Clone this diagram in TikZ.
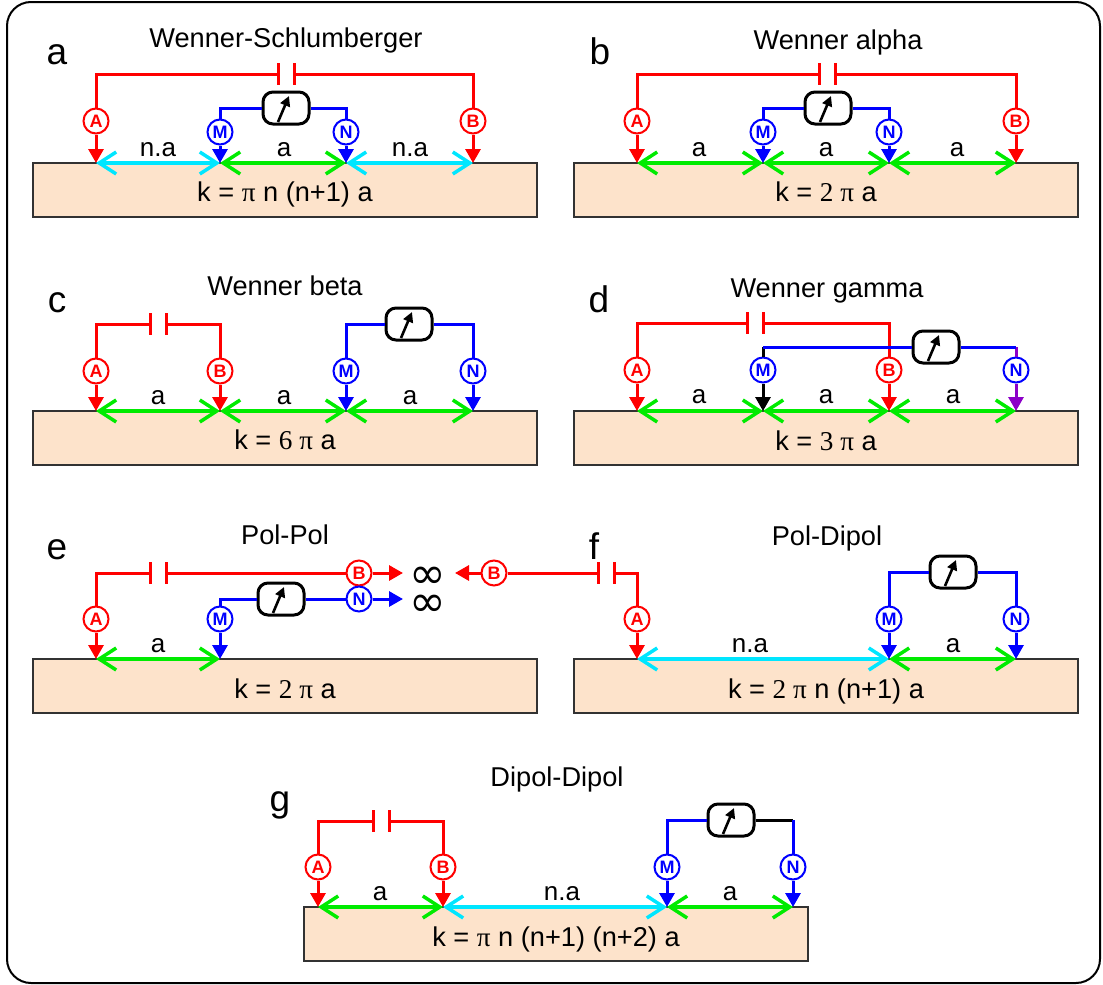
\documentclass[tikz,border=0pt]{standalone}
\usepackage{fontspec}
\setmainfont{Liberation Sans}
\newfontfamily\tms{Liberation Serif}
\newfontfamily\djv{DejaVu Sans}
\usetikzlibrary{arrows.meta}
\definecolor{soilfill}{RGB}{253,227,203}
\definecolor{soilline}{RGB}{50,50,50}
\definecolor{dimgreen}{RGB}{0,235,0}
\definecolor{dimcyan}{RGB}{0,230,255}
\definecolor{wirered}{RGB}{255,0,0}
\definecolor{wireblue}{RGB}{0,0,255}
\definecolor{wirepurple}{RGB}{140,0,200}
\tikzset{
  frame/.style={draw=black,line width=2pt,rounded corners=24pt,fill=white},
  soil/.style={draw=soilline,line width=1.6pt,fill=soilfill,minimum width=504pt,minimum height=54pt,inner sep=0pt},
  elecnode/.style={circle,draw=#1,text=#1,fill=white,line width=2pt,minimum size=25pt,inner sep=0pt,font=\fontsize{18}{18}\selectfont\bfseries},
  probe/.style={draw=#1,line width=3pt,-{Triangle[length=14pt,width=15pt,fill=#1]}},
  wire/.style={draw=#1,line width=3pt},
  dim/.style={draw=#1,line width=3.5pt,{Straight Barb[length=17pt,width=22pt,line width=3.5pt]}-{Straight Barb[length=17pt,width=22pt,line width=3.5pt]}},
  meter/.style={draw=black,fill=white,line width=3pt,rounded corners=10pt,minimum width=46pt,minimum height=32pt,inner sep=0pt},
  needle/.style={draw=black,line width=2.6pt,-{Triangle[length=10pt,width=10pt]}},
  plate/.style={draw=wirered,line width=3pt},
  panelletter/.style={anchor=base,font=\fontsize{37}{37}\selectfont},
  paneltitle/.style={anchor=base,font=\fontsize{27.2}{30}\selectfont},
  dimlabel/.style={anchor=base,inner sep=0pt,font=\fontsize{26}{28}\selectfont},
  formula/.style={anchor=base,inner sep=0pt,font=\fontsize{27.2}{30}\selectfont},
  inftylabel/.style={inner sep=0pt,align=center,font=\fontsize{44}{28}\selectfont\djv},
}
% name, x, circle y, letter, circle colour, arrow colour, ground y
\newcommand{\elec}[7]{%
  \node[elecnode=#5] (#1) at (#2,#3) {#4};
  \coordinate (#1g) at (#2,#7);
  \draw[probe=#6] (#1) -- (#1g);
}
% name, x, y
\newcommand{\battery}[3]{%
  \coordinate (#1L) at (#2-8,#3);
  \coordinate (#1R) at (#2+8,#3);
  \draw[plate] (#2-8,#3-11) -- (#2-8,#3+11);
  \draw[plate] (#2+8,#3-11) -- (#2+8,#3+11);
}
% name, x, y
\newcommand{\gauge}[3]{%
  \node[meter] (#1) at (#2,#3) {};
  \draw[needle] ([shift={(-8,14)}]#1.center) -- ([shift={(3,-12)}]#1.center);
}
\begin{document}
\begin{tikzpicture}[x=1pt,y=-1pt]
\useasboundingbox (0,0) rectangle (1103,985);
\draw[frame] (7,2) rectangle (1100,983);

% ---- a
\node[soil] (boxa) at (285,190) {};
\node[formula] (ka) at (285,201) {k = {\tms π} n (n+1) a};
\node[panelletter] (la) at (57,64) {a};
\node[paneltitle] (ta) at (286,47) {Wenner-Schlumberger};
\elec{aA}{96}{121}{A}{wirered}{wirered}{163}
\elec{aM}{220}{132}{M}{wireblue}{wireblue}{163}
\elec{aN}{346}{132}{N}{wireblue}{wireblue}{163}
\elec{aB}{473}{121}{B}{wirered}{wirered}{163}
\battery{acap}{286}{74}
\draw[wire=wirered] (aA) |- (acapL);
\draw[wire=wirered] (aB) |- (acapR);
\gauge{am}{286}{108}
\draw[wire=wireblue] (aM) |- (am.west);
\draw[wire=wireblue] (aN) |- (am.east);
\draw[dim=dimcyan] (aAg) -- (aMg);
\draw[dim=dimgreen] (aMg) -- (aNg);
\draw[dim=dimcyan] (aNg) -- (aBg);
\node[dimlabel] (da1) at (158,156) {n.a};
\node[dimlabel] (da2) at (284,156) {a};
\node[dimlabel] (da3) at (410,156) {n.a};

% ---- b
\node[soil] (boxb) at (826,190) {};
\node[formula] (kb) at (826,201) {k = {\tms 2 π} a};
\node[panelletter] (lb) at (600,64) {b};
\node[paneltitle] (tb) at (838,49) {Wenner alpha};
\elec{bA}{637}{121}{A}{wirered}{wirered}{163}
\elec{bM}{763}{132}{M}{wireblue}{wireblue}{163}
\elec{bN}{889}{132}{N}{wireblue}{wireblue}{163}
\elec{bB}{1016}{121}{B}{wirered}{wirered}{163}
\battery{bcap}{827}{74}
\draw[wire=wirered] (bA) |- (bcapL);
\draw[wire=wirered] (bB) |- (bcapR);
\gauge{bm}{828}{108}
\draw[wire=wireblue] (bM) |- (bm.west);
\draw[wire=wireblue] (bN) |- (bm.east);
\draw[dim=dimgreen] (bAg) -- (bMg);
\draw[dim=dimgreen] (bMg) -- (bNg);
\draw[dim=dimgreen] (bNg) -- (bBg);
\node[dimlabel] (db1) at (699,156) {a};
\node[dimlabel] (db2) at (826,156) {a};
\node[dimlabel] (db3) at (957,156) {a};

% ---- c
\node[soil] (boxc) at (285,438) {};
\node[formula] (kc) at (285,449) {k = {\tms 6 π} a};
\node[panelletter] (lc) at (57,312) {c};
\node[paneltitle] (tc) at (285,295) {Wenner beta};
\elec{cA}{96}{371}{A}{wirered}{wirered}{411}
\elec{cB}{220}{371}{B}{wirered}{wirered}{411}
\elec{cM}{346}{371}{M}{wireblue}{wireblue}{411}
\elec{cN}{473}{371}{N}{wireblue}{wireblue}{411}
\battery{ccap}{158}{324}
\draw[wire=wirered] (cA) |- (ccapL);
\draw[wire=wirered] (cB) |- (ccapR);
\gauge{cm}{409}{324}
\draw[wire=wireblue] (cM) |- (cm.west);
\draw[wire=wireblue] (cN) |- (cm.east);
\draw[dim=dimgreen] (cAg) -- (cBg);
\draw[dim=dimgreen] (cBg) -- (cMg);
\draw[dim=dimgreen] (cMg) -- (cNg);
\node[dimlabel] (dc1) at (158,404) {a};
\node[dimlabel] (dc2) at (284,404) {a};
\node[dimlabel] (dc3) at (410,404) {a};

% ---- d
\node[soil] (boxd) at (826,438) {};
\node[formula] (kd) at (826,450) {k = {\tms 3 π} a};
\node[panelletter] (ld) at (599,312) {d};
\node[paneltitle] (td) at (827,297) {Wenner gamma};
\elec{dA}{637}{370}{A}{wirered}{wirered}{411}
\elec{dM}{763}{370}{M}{wireblue}{black}{411}
\elec{dB}{889}{370}{B}{wirered}{wirered}{411}
\elec{dN}{1016}{370}{N}{wireblue}{wirepurple}{411}
\battery{dcap}{755}{323}
\draw[wire=wirered] (dA) |- (dcapL);
\draw[wire=wirered] (dB) |- (dcapR);
\gauge{dm}{936}{347}
\coordinate (dMc) at (763,347);
\coordinate (dNc) at (1016,347);
\draw[wire=black] (dM) -- (dMc);
\draw[wire=wirepurple] (dN) -- (dNc);
\draw[wire=wireblue] (dMc) -- (dm.west);
\draw[wire=wireblue] (dm.east) -- (dNc);
\draw[dim=dimgreen] (dAg) -- (dMg);
\draw[dim=dimgreen] (dMg) -- (dBg);
\draw[dim=dimgreen] (dBg) -- (dNg);
\node[dimlabel] (dd1) at (699,403) {a};
\node[dimlabel] (dd2) at (826,403) {a};
\node[dimlabel] (dd3) at (953,403) {a};

% ---- e
\node[soil] (boxe) at (285,686) {};
\node[formula] (ke) at (285,698) {k = {\tms 2 π} a};
\node[panelletter] (le) at (57,559) {e};
\node[paneltitle] (te) at (285,544) {Pol-Pol};
\elec{eA}{96}{619}{A}{wirered}{wirered}{659}
\elec{eM}{220}{619}{M}{wireblue}{wireblue}{659}
\battery{ecap}{158}{573}
\node[elecnode=wirered] (eB) at (359,573) {B};
\node[elecnode=wireblue] (eN) at (359,599) {N};
\node[inftylabel] (einf) at (428,592) {∞\\∞};
\coordinate (eBt) at (403,573);
\coordinate (eNt) at (403,599);
\draw[wire=wirered] (eA) |- (ecapL);
\draw[wire=wirered] (ecapR) -- (eB);
\draw[probe=wirered] (eB) -- (eBt);
\gauge{em}{281}{599}
\draw[wire=wireblue] (eM) |- (em.west);
\draw[wire=wireblue] (em.east) -- (eN);
\draw[probe=wireblue] (eN) -- (eNt);
\draw[dim=dimgreen] (eAg) -- (eMg);
\node[dimlabel] (de1) at (158,652) {a};

% ---- f
\node[soil] (boxf) at (826,686) {};
\node[formula] (kf) at (826,698) {k = {\tms 2 π} n (n+1) a};
\node[panelletter] (lf) at (594,559) {f};
\node[paneltitle] (tf) at (827,545) {Pol-Dipol};
\elec{fA}{637}{619}{A}{wirered}{wirered}{659}
\elec{fM}{889}{619}{M}{wireblue}{wireblue}{659}
\elec{fN}{1016}{619}{N}{wireblue}{wireblue}{659}
\battery{fcap}{606}{573}
\node[elecnode=wirered] (fB) at (494,573) {B};
\coordinate (fBt) at (455,573);
\draw[wire=wirered] (fA) |- (fcapR);
\draw[wire=wirered] (fcapL) -- (fB);
\draw[probe=wirered] (fB) -- (fBt);
\gauge{fm}{953}{572}
\draw[wire=wireblue] (fM) |- (fm.west);
\draw[wire=wireblue] (fN) |- (fm.east);
\draw[dim=dimcyan] (fAg) -- (fMg);
\draw[dim=dimgreen] (fMg) -- (fNg);
\node[dimlabel] (df1) at (750,652) {n.a};
\node[dimlabel] (df2) at (953,652) {a};

% ---- g
\node[soil] (boxg) at (556,934) {};
\node[formula] (kg) at (556,946) {k = {\tms π} n (n+1) (n+2) a};
\node[panelletter] (lg) at (280,811) {g};
\node[paneltitle] (tg) at (557,786) {Dipol-Dipol};
\elec{gA}{318}{867}{A}{wirered}{wirered}{907}
\elec{gB}{443}{867}{B}{wirered}{wirered}{907}
\elec{gM}{667}{867}{M}{wireblue}{wireblue}{907}
\elec{gN}{793}{867}{N}{wireblue}{wireblue}{907}
\battery{gcap}{381}{821}
\draw[wire=wirered] (gA) |- (gcapL);
\draw[wire=wirered] (gB) |- (gcapR);
\gauge{gm}{731}{820}
\coordinate (gNc) at (793,820);
\draw[wire=wireblue] (gM) |- (gm.west);
\draw[wire=black] (gm.east) -- (gNc);
\draw[wire=wireblue] (gN) -- (gNc);
\draw[dim=dimgreen] (gAg) -- (gBg);
\draw[dim=dimcyan] (gBg) -- (gMg);
\draw[dim=dimgreen] (gMg) -- (gNg);
\node[dimlabel] (dg1) at (380,900) {a};
\node[dimlabel] (dg2) at (562,900) {n.a};
\node[dimlabel] (dg3) at (730,900) {a};
\end{tikzpicture}
\end{document}
